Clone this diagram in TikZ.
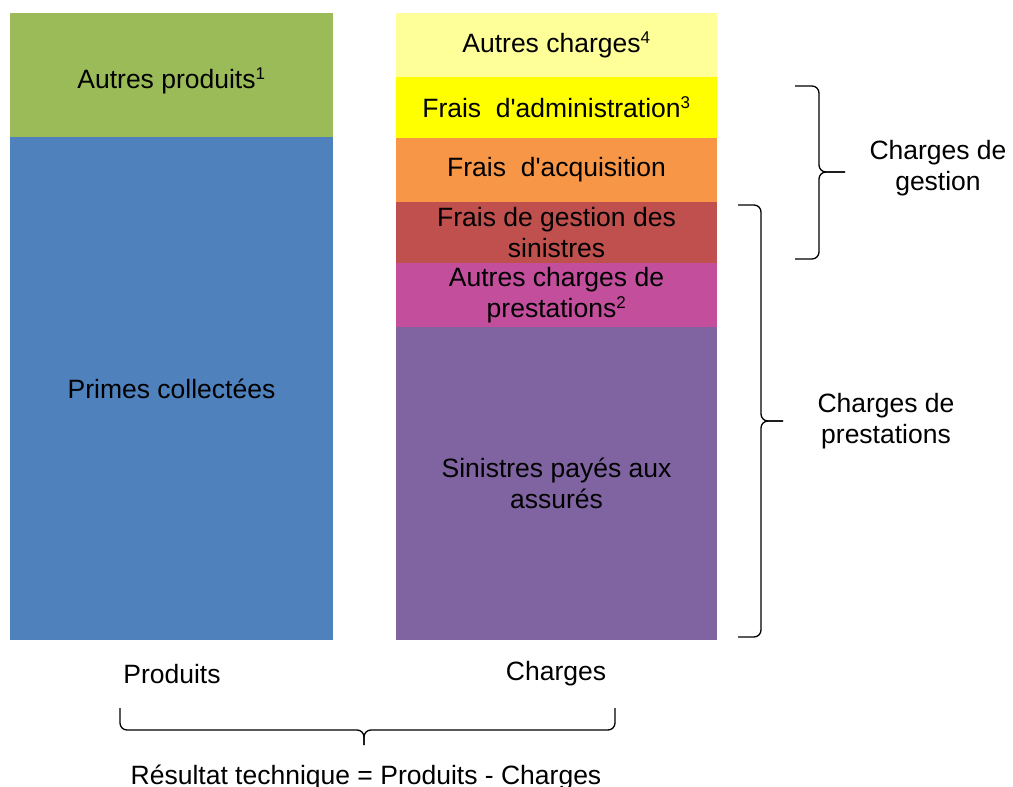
\documentclass[tikz,border=0pt]{standalone}
\usepackage{fontspec}
\setmainfont{Liberation Sans}
\usepackage{tikz}
\usetikzlibrary{positioning}

\definecolor{vertprod}{HTML}{9BBB59}
\definecolor{bleuprim}{HTML}{4F81BD}
\definecolor{jaunepale}{HTML}{FFFF99}
\definecolor{jaunevif}{HTML}{FFFF00}
\definecolor{orangeacq}{HTML}{F79646}
\definecolor{rougegest}{HTML}{C0504D}
\definecolor{rosepresta}{HTML}{C24E9C}
\definecolor{violetsin}{HTML}{8064A2}

\newcommand{\apos}{\textquotesingle}
\newcommand{\expo}[1]{\textsuperscript{\fontsize{17}{17}\selectfont #1}}

\tikzset{
  bloc/.style={inner sep=0pt, outer sep=0pt, align=center, minimum height=#1,
    font=\fontsize{26.5}{31}\selectfont},
  gauche/.style={bloc=#1, minimum width=323},
  droite/.style={bloc=#1, minimum width=321},
  legende/.style={align=center, font=\fontsize{26.5}{31}\selectfont},
  accolade/.style={line width=1.3pt, rounded corners=7pt}
}

\begin{document}
\begin{tikzpicture}[x=1pt,y=-1pt]
\useasboundingbox (0,0) rectangle (1013,787);
			% Produits
\node [gauche=124, fill=vertprod,
  label={[legende, yshift=-6pt]center:Autres produits\expo{1}}] (prod) at (171.5,75) {};
\node [gauche=503, fill=bleuprim, below=0pt of prod] (primes) {Primes collectées};
			% Charges
\node [droite=64, fill=jaunepale] (autch) at (556.5,45) {Autres charges\expo{4}};
\node [droite=61, fill=jaunevif, below=0pt of autch] (admin) {Frais~ d\apos administration\expo{3}};
\node [droite=64, fill=orangeacq, below=0pt of admin] (acq) {Frais~ d\apos acquisition};
\node [droite=61, fill=rougegest, below=0pt of acq] (gest) {Frais de gestion des\\sinistres};
\node [droite=64, fill=rosepresta, below=0pt of gest] (presta) {Autres charges de\\prestations\expo{2}};
\node [droite=313, fill=violetsin, below=0pt of presta] (sin) {Sinistres payés aux\\assurés};
			% Accolades
\draw [accolade] (795,86) -| (819,172) -- (845,172);
\draw [accolade] (795,259) -| (819,172) -- (845,172);
\node [legende] (cgest) at (938,168) {Charges de\\gestion};
\draw [accolade] (738,205) -| (761,421) -- (783,421);
\draw [accolade] (738,637) -| (761,421) -- (783,421);
\node [legende] (cpresta) at (886,421) {Charges de\\prestations};
\node [legende] (lprod) at (172,674) {Produits};
\node [legende] (lch) at (556,674) {Charges};
\draw [accolade] (120,708) |- (364,730) -- (364,745);
\draw [accolade] (615,708) |- (364,730) -- (364,745);
\node [legende] (res) at (366,777) {Résultat technique = Produits - Charges};
\end{tikzpicture}
\end{document}
